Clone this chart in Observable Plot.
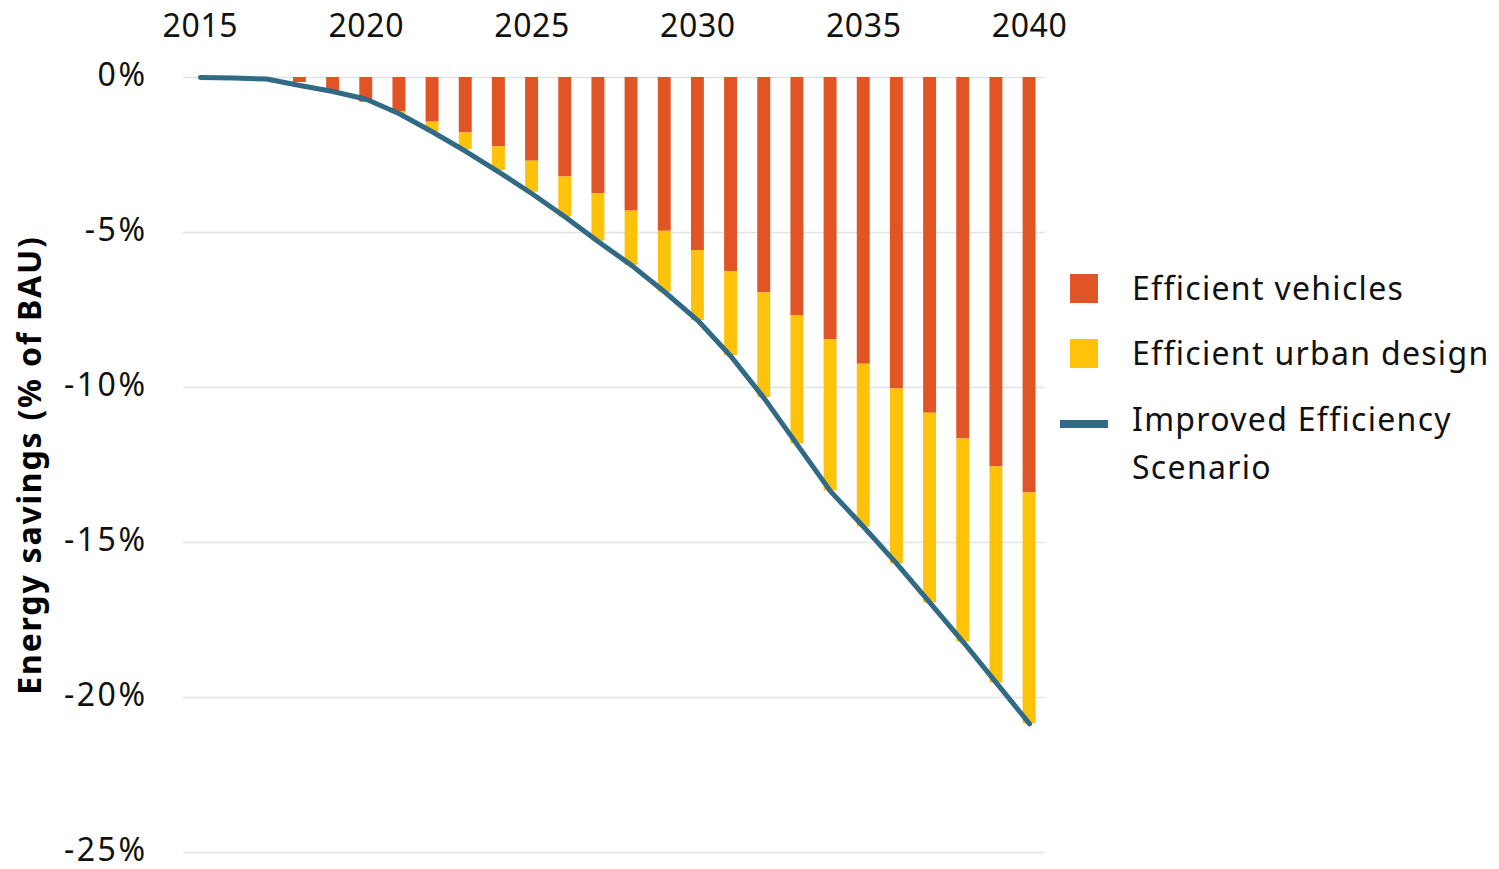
<!DOCTYPE html>
<html>
<head>
<meta charset="utf-8">
<script src="https://cdn.jsdelivr.net/npm/d3@7"></script>
<script src="https://cdn.jsdelivr.net/npm/@observablehq/plot@0.6"></script>
<style>
  html, body { margin: 0; padding: 0; background: #fff; }
  #wrap { position: relative; width: 1499px; height: 869px; font-family: "Noto Sans", "Open Sans", sans-serif; }
  #legend { position: absolute; left: 0; top: 0; width: 1499px; height: 869px; pointer-events: none; }
  .lg-item { position: absolute; font-size: 32px; letter-spacing: 1.3px; color: #111; line-height: 48px; white-space: nowrap; }
  .sw { position: absolute; }
  svg g[aria-label="y-axis tick label"] text { letter-spacing: 2.5px; }
  svg g[aria-label="x-axis tick label"] text { letter-spacing: 0.6px; }
  svg g[aria-label="text"] text { letter-spacing: 1.8px; }
</style>
</head>
<body>
<div id="wrap">
  <div id="chart"></div>
  <div id="legend"></div>
</div>
<script>
const years = [2015,2016,2017,2018,2019,2020,2021,2022,2023,2024,2025,2026,2027,2028,2029,2030,2031,2032,2033,2034,2035,2036,2037,2038,2039,2040];
const barYears = [2018,2019,2020,2021,2022,2023,2024,2025,2026,2027,2028,2029,2030,2031,2032,2033,2034,2035,2036,2037,2038,2039,2040];
const efficientVehicles = [-0.16,-0.5,-0.8,-1.1,-1.44,-1.79,-2.23,-2.70,-3.21,-3.75,-4.31,-4.96,-5.58,-6.26,-6.95,-7.68,-8.46,-9.25,-10.05,-10.83,-11.66,-12.56,-13.40];
const efficientUrbanDesign = [0,0,0,-0.07,-0.32,-0.54,-0.77,-1.0,-1.29,-1.53,-1.75,-1.96,-2.26,-2.71,-3.38,-4.14,-4.88,-5.25,-5.64,-6.12,-6.55,-6.97,-7.45];
const improvedScenario = [0,-0.02,-0.05,-0.26,-0.45,-0.7,-1.17,-1.76,-2.38,-3.05,-3.75,-4.5,-5.3,-6.06,-6.92,-7.84,-9.0,-10.35,-11.85,-13.35,-14.5,-15.69,-16.95,-18.21,-19.53,-20.85];
const xTicks = [2015,2020,2025,2030,2035,2040];
const yTicks = [0,-5,-10,-15,-20,-25];
const seriesNames = ["Efficient vehicles","Efficient urban design","Improved Efficiency Scenario"];
const colors = ["#E05426","#FFC20A","#306A85"];

const bars = barYears.map((year, i) => ({
  year,
  v: efficientVehicles[i],
  u: efficientUrbanDesign[i]
}));
const line = years.map((year, i) => ({year, value: improvedScenario[i]}));
const halfW = 0.195;

const chart = Plot.plot({
  width: 1499,
  height: 869,
  marginLeft: 183,
  marginRight: 454,
  marginTop: 77,
  marginBottom: 17,
  style: {fontFamily: '"Noto Sans", "Open Sans", sans-serif', background: "#fff", color: "#111"},
  x: {type: "linear", domain: [2014.49, 2040.48]},
  y: {domain: [-25, 0]},
  marks: [
    Plot.ruleY(yTicks, {stroke: "#e3e3e3", strokeWidth: 1.5}),
    Plot.rectY(bars, {x1: d => d.year - halfW, x2: d => d.year + halfW, y1: 0, y2: d => d.v, fill: colors[0]}),
    Plot.rectY(bars.filter(d => d.u !== 0), {x1: d => d.year - halfW, x2: d => d.year + halfW, y1: d => d.v, y2: d => d.v + d.u, fill: colors[1]}),
    Plot.line(line, {x: "year", y: "value", stroke: colors[2], strokeWidth: 5, strokeLinejoin: "round"}),
    Plot.axisX({anchor: "top", ticks: xTicks, tickSize: 0, tickPadding: 41, tickFormat: d => String(d), fontSize: 32, label: null}),
    Plot.axisY({anchor: "left", ticks: yTicks, tickSize: 0, tickPadding: 36, tickFormat: d => `${d}%`, fontSize: 32, dy: -2, label: null}),
    Plot.text(["Energy savings (% of BAU)"], {frameAnchor: "left", dx: -153, rotate: -90, text: d => d, fontSize: 32, fontWeight: "bold", textAnchor: "middle", lineAnchor: "middle", fill: "#000"})
  ]
});
document.getElementById("chart").appendChild(chart);

// Legend
const lg = document.getElementById("legend");
const items = [
  {name: seriesNames[0], color: colors[0], type: "sq", y: 288},
  {name: seriesNames[1], color: colors[1], type: "sq", y: 353},
  {name: seriesNames[2], color: colors[2], type: "ln", y: 419}
];
items.forEach(it => {
  const sw = document.createElement("div");
  sw.className = "sw";
  if (it.type === "sq") {
    Object.assign(sw.style, {left: "1070px", top: (it.y - 14) + "px", width: "28px", height: "29px", background: it.color});
  } else {
    Object.assign(sw.style, {left: "1060px", top: (it.y + 1) + "px", width: "48px", height: "8px", background: it.color});
  }
  lg.appendChild(sw);
  const t = document.createElement("div");
  t.className = "lg-item";
  if (it.type === "ln") {
    const parts = it.name.split(" ");
    t.innerHTML = parts.slice(0, 2).join(" ") + "<br>" + parts.slice(2).join(" ");
  } else {
    t.textContent = it.name;
  }
  Object.assign(t.style, {left: "1132px", top: (it.y - 24) + "px"});
  lg.appendChild(t);
});
</script>
</body>
</html>
